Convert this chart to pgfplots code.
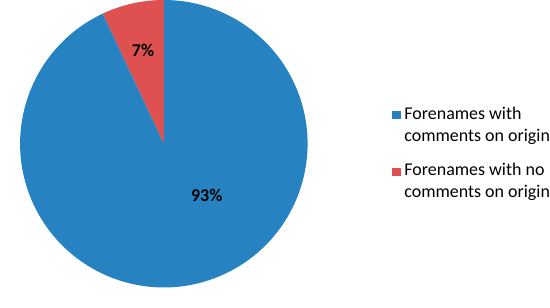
\documentclass[border=0pt]{standalone}
\usepackage{pgfplots}
\usepackage{pgfplotstable}
\pgfplotsset{compat=1.18}
\usepackage{fontspec}
\setmainfont{Carlito}
\definecolor{pieblue}{RGB}{38,130,193}
\definecolor{piered}{RGB}{222,81,80}
\pgfplotstableread{
share label
93 {Forenames with comments on origin}
7 {Forenames with no comments on origin}
}\piedata
\begin{document}
\begin{tikzpicture}
\pgfplotstablegetelem{0}{share}\of\piedata \let\shareA\pgfplotsretval
\pgfplotstablegetelem{1}{share}\of\piedata \let\shareB\pgfplotsretval
\pgfmathsetmacro{\angB}{90+3.6*\shareB}
\pgfmathsetmacro{\angA}{\angB+3.6*\shareA}
\begin{axis}[
  hide axis,
  scale only axis,
  width=550bp, height=304bp,
  xmin=-150.5, xmax=399.5,
  ymin=-152.3, ymax=151.7,
  clip=false,
]
% red slice: 7%, from 12 o'clock counter-clockwise
\fill[piered] (axis cs:0,0) -- (axis cs:0,146.6) arc[start angle=90, end angle=\angB, radius=146.6bp] -- cycle;
% blue slice: 93%
\fill[pieblue] (axis cs:0,0) -- ({axis cs:{146.6*cos(\angB)},{146.6*sin(\angB)}}) arc[start angle=\angB, end angle=\angA, radius=146.6bp] -- cycle;
\node[font=\fontsize{18.3bp}{22bp}\selectfont\bfseries, inner sep=0] at (axis cs:-21.2,95) {7\%};
\node[font=\fontsize{18.3bp}{22bp}\selectfont\bfseries, inner sep=0] at (axis cs:43.8,-52.3) {93\%};
% legend
\fill[pieblue] (axis cs:232.8,25) rectangle (axis cs:241.5,33.4);
\fill[piered] (axis cs:232.8,-32.8) rectangle (axis cs:241.5,-24.3);
\begin{scope}[every node/.style={font=\fontsize{18.3bp}{22bp}\selectfont, inner sep=0, anchor=base west}]
\node at (axis cs:245.2,24.4) {Forenames with};
\node at (axis cs:245.2,2.2) {comments on origin};
\node at (axis cs:245.2,-32.3) {Forenames with no};
\node at (axis cs:245.2,-55) {comments on origin};
\end{scope}
\end{axis}
\end{tikzpicture}
\end{document}
